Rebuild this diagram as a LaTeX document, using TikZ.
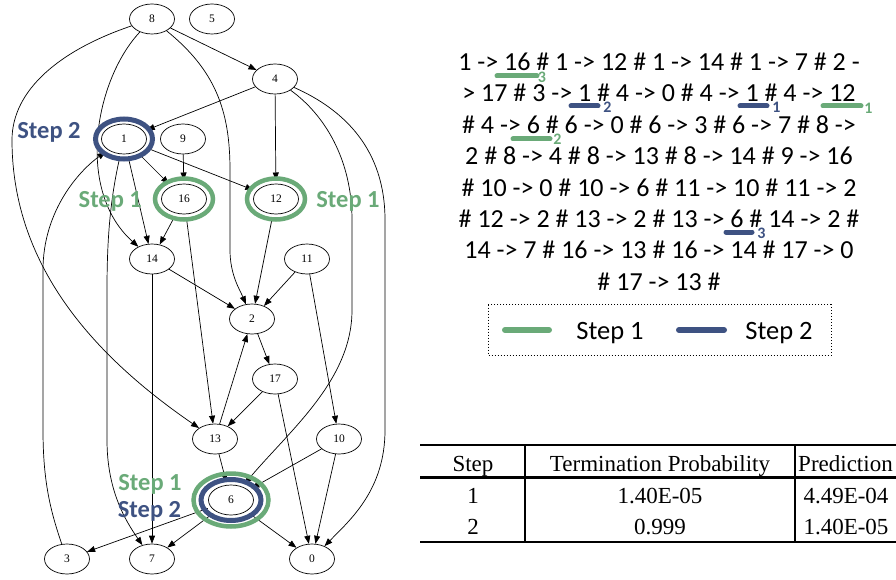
\documentclass[tikz,border=0pt]{standalone}
\usepackage{fontspec}
\setmainfont{Liberation Serif}
\newfontfamily\calfont{Carlito}
\usetikzlibrary{shapes.geometric,arrows.meta}
\definecolor{sgreen}{RGB}{106,170,120}
\definecolor{sblue}{RGB}{62,82,130}
\begin{document}
\begin{tikzpicture}[x=1pt,y=-1pt,
  gnode/.style={ellipse,draw,line width=0.7pt,minimum width=45pt,minimum height=30pt,inner sep=0pt,font=\fontsize{11.5}{12}\selectfont},
  rnode/.style={gnode,outer sep=3.5pt},
  edge/.style={-{Triangle[length=8pt,width=6pt]},line width=0.7pt},
  ringG/.style={draw=sgreen,line width=4.5pt},
  ringB/.style={draw=sblue,line width=5pt},
  seqtext/.style={anchor=base,inner sep=0pt,font=\calfont\fontsize{26}{31}\selectfont},
  gstep/.style={anchor=base,inner sep=0pt,font=\calfont\bfseries\fontsize{24.5}{28}\selectfont},
  barG/.style={draw=sgreen,line width=5pt,line cap=round},
  barB/.style={draw=sblue,line width=5pt,line cap=round},
  barlab/.style={inner sep=0pt,font=\calfont\bfseries\fontsize{16}{18}\selectfont},
  legline/.style={line width=6pt,line cap=round},
  legtext/.style={anchor=base,inner sep=0pt,font=\calfont\fontsize{26.5}{31}\selectfont},
  tabtext/.style={anchor=base,inner sep=0pt,font=\fontsize{23}{26}\selectfont},
  rule/.style={line width=1.8pt}
]
\useasboundingbox (0,0) rectangle (896,580);
% ---------- graph nodes ----------
\node[gnode] (n8) at (152,19) {8};
\node[gnode] (n5) at (212,19) {5};
\node[gnode] (n4) at (275,79) {4};
\node[rnode] (n1) at (124,139) {1};
\node[gnode] (n9) at (183,139) {9};
\node[rnode] (n16) at (184,199) {16};
\node[rnode] (n12) at (276,199) {12};
\node[gnode] (n14) at (152,259) {14};
\node[gnode] (n11) at (307,259) {11};
\node[gnode] (n2) at (252,319) {2};
\node[gnode] (n17) at (275,379) {17};
\node[gnode] (n13) at (215,439) {13};
\node[gnode] (n10) at (339,439) {10};
\node[rnode] (n6) at (231,500) {6};
\node[gnode] (n3) at (67,559) {3};
\node[gnode] (n7) at (152,559) {7};
\node[gnode] (n0) at (312,559) {0};
% ---------- edges ----------
\draw[edge] (n8) -- (n4);
\draw[edge] (n8) .. controls (95,80) and (75,190) .. (n14);
\draw[edge] (n8) .. controls (60,50) and (12,90) .. (12,140) .. controls (12,270) and (100,360) .. (n13);
\draw[edge] (n8) .. controls (215,70) and (230,110) .. (230,170) -- (230,250) .. controls (230,275) and (240,290) .. (n2);
\draw[edge] (n4) -- (n1);
\draw[edge] (n4) -- (n12);
\draw[edge] (n4) .. controls (345,110) and (385,150) .. (385,220) -- (385,430) .. controls (385,490) and (350,520) .. (n0);
\draw[edge] (n4) .. controls (325,115) and (352,160) .. (352,220) -- (352,310) .. controls (352,380) and (290,430) .. (n6);
\draw[edge] (n1) -- (n16);
\draw[edge] (n1) -- (n12);
\draw[edge] (n1) -- (n14);
\draw[edge] (n1) .. controls (110,200) and (107,240) .. (107,290) -- (107,440) .. controls (107,490) and (125,520) .. (n7);
\draw[edge] (n3) .. controls (50,510) and (43,480) .. (43,430) -- (43,270) .. controls (43,210) and (80,170) .. (n1);
\draw[edge] (n9) -- (n16);
\draw[edge] (n16) -- (n14);
\draw[edge] (n16) -- (n13);
\draw[edge] (n12) -- (n2);
\draw[edge] (n11) -- (n2);
\draw[edge] (n11) -- (n10);
\draw[edge] (n14) -- (n2);
\draw[edge] (n14) -- (n7);
\draw[edge] (n2) -- (n17);
\draw[edge] (n17) -- (n13);
\draw[edge] (n17) -- (n0);
\draw[edge] (n13) -- (n2);
\draw[edge] (n13) -- (n6);
\draw[edge] (n10) -- (n6);
\draw[edge] (n10) -- (n0);
\draw[edge] (n6) -- (n3);
\draw[edge] (n6) -- (n7);
\draw[edge] (n6) -- (n0);
% ---------- rings ----------
\draw[ringB] (n1.center) ellipse [x radius=28.5, y radius=20];
\draw[ringG] (n16.center) ellipse [x radius=29, y radius=20.5];
\draw[ringG] (n12.center) ellipse [x radius=29, y radius=20.5];
\draw[ringB] (n6.center) ellipse [x radius=30, y radius=20.5];
\draw[ringG] (n6.center) ellipse [x radius=37.5, y radius=26.5];
% ---------- step labels in graph ----------
\node[gstep,text=sblue] (l1) at (49,138.3) {Step 2};
\node[gstep,text=sgreen] (l16) at (110.3,207.3) {Step 1};
\node[gstep,text=sgreen] (l12) at (348,207.3) {Step 1};
\node[gstep,text=sgreen] (l6a) at (150,490.7) {Step 1};
\node[gstep,text=sblue] (l6b) at (149.5,517.7) {Step 2};
% ---------- sequence text ----------
\node[seqtext] (t1) at (659,70.5) {1 -> 16 \# 1 -> 12 \# 1 -> 14 \# 1 -> 7 \# 2 -};
\node[seqtext] (t2) at (659,101.9) {> 17 \# 3 -> 1 \# 4 -> 0 \# 4 -> 1 \# 4 -> 12};
\node[seqtext] (t3) at (659,133.3) {\# 4 -> 6 \# 6 -> 0 \# 6 -> 3 \# 6 -> 7 \# 8 ->};
\node[seqtext] (t4) at (659,164.7) {2 \# 8 -> 4 \# 8 -> 13 \# 8 -> 14 \# 9 -> 16};
\node[seqtext] (t5) at (659,196.1) {\# 10 -> 0 \# 10 -> 6 \# 11 -> 10 \# 11 -> 2};
\node[seqtext] (t6) at (659,227.5) {\# 12 -> 2 \# 13 -> 2 \# 13 -> 6 \# 14 -> 2 \#};
\node[seqtext] (t7) at (659,258.9) {14 -> 7 \# 16 -> 13 \# 16 -> 14 \# 17 -> 0};
\node[seqtext] (t8) at (659,290.3) {\# 17 -> 13 \#};
% ---------- highlight bars ----------
\draw[barG] (497,76) -- (537,76);
\node[barlab,text=sgreen] (b1) at (542,77.5) {3};
\draw[barB] (571,106) -- (598,106);
\node[barlab,text=sblue] (b2) at (607.5,107.5) {2};
\draw[barB] (740,106) -- (767,106);
\node[barlab,text=sblue] (b3) at (776.5,107.5) {1};
\draw[barG] (823,106) -- (861,106);
\node[barlab,text=sgreen] (b4) at (868.5,108) {1};
\draw[barG] (513,139) -- (550,139);
\node[barlab,text=sgreen] (b5) at (557.5,139) {2};
\draw[barB] (726,232) -- (752,232);
\node[barlab,text=sblue] (b6) at (761.5,233.5) {3};
% ---------- legend ----------
\draw[dotted,line width=1pt] (488,304.5) rectangle (831,355);
\draw[legline,draw=sgreen] (505,330) -- (549,330);
\node[legtext] (lg1) at (610,339.5) {Step 1};
\draw[legline,draw=sblue] (679,330) -- (724,330);
\node[legtext] (lg2) at (779,339.5) {Step 2};
% ---------- table ----------
\draw[rule] (420,445) -- (896,445);
\draw[line width=3.5pt] (420,477.7) -- (896,477.7);
\draw[rule] (420,541.7) -- (896,541.7);
\draw[rule] (525,445) -- (525,541.7);
\draw[rule] (795,445) -- (795,541.7);
\node[tabtext] (h1) at (473,471.5) {Step};
\node[tabtext] (h2) at (660,471.5) {Termination Probability};
\node[tabtext,anchor=base west] (h3) at (798,471.5) {Prediction};
\node[tabtext] (r11) at (473,503.5) {1};
\node[tabtext] (r12) at (660,503.5) {1.40E-05};
\node[tabtext] (r13) at (846,503.5) {4.49E-04};
\node[tabtext] (r21) at (473,534.5) {2};
\node[tabtext] (r22) at (660,534.5) {0.999};
\node[tabtext] (r23) at (846,534.5) {1.40E-05};
\end{tikzpicture}
\end{document}
